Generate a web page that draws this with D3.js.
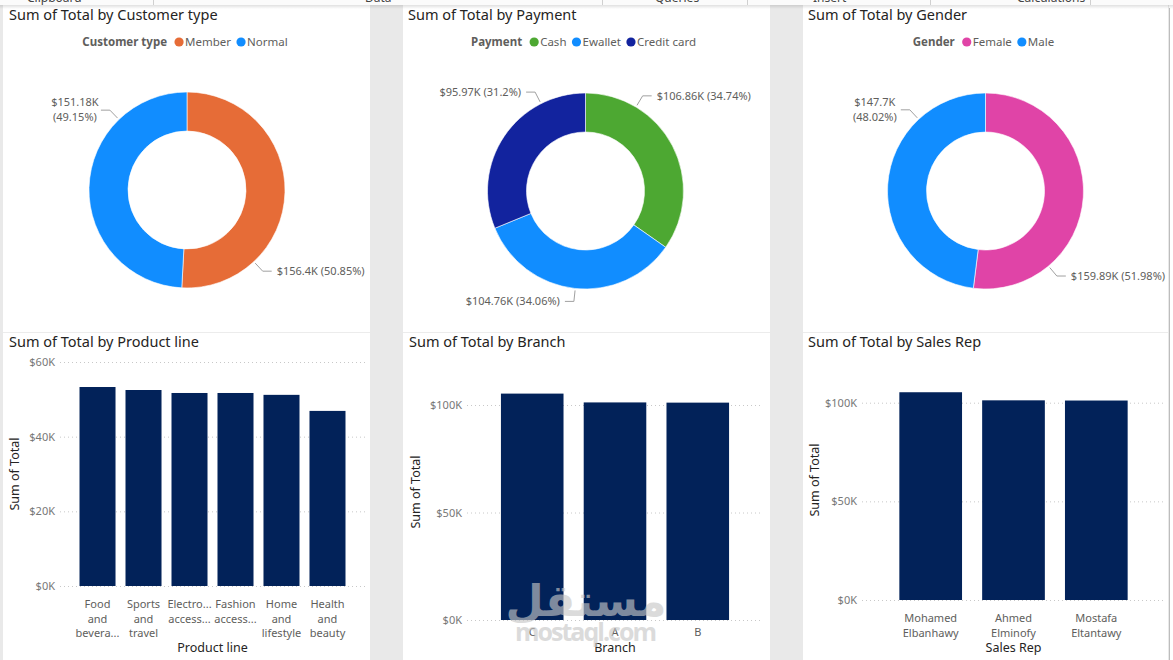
<!DOCTYPE html>
<html>
<head>
<meta charset="utf-8">
<script src="https://cdn.jsdelivr.net/npm/d3@7"></script>
<style>
  body { margin: 0; background: #fff; }
  text { font-family: "Noto Sans", sans-serif; }
</style>
</head>
<body>
<svg id="chart" width="1173" height="660"></svg>
<script>
// ---- data (values in $K) ----
var customerTypes = ["Member", "Normal"];
var customerTotals = [156.40, 151.18];

var payments = ["Cash", "Ewallet", "Credit card"];
var paymentTotals = [106.86, 104.76, 95.97];

var genders = ["Female", "Male"];
var genderTotals = [159.89, 147.70];

var productLines = ["Food and beverages", "Sports and travel", "Electronic accessories",
                    "Fashion accessories", "Home and lifestyle", "Health and beauty"];
var productTotals = [53.3, 52.5, 51.7, 51.7, 51.2, 46.9];
var productTickLabels = [["Food", "and", "bevera..."], ["Sports", "and", "travel"],
                         ["Electro...", "access..."], ["Fashion", "access..."],
                         ["Home", "and", "lifestyle"], ["Health", "and", "beauty"]];

var branches = ["C", "A", "B"];
var branchTotals = [105.3, 101.2, 101.1];

var salesReps = ["Mohamed Elbanhawy", "Ahmed Elminofy", "Mostafa Eltantawy"];
var salesRepTotals = [105.3, 101.2, 101.1];
var salesRepTickLabels = [["Mohamed", "Elbanhawy"], ["Ahmed", "Elminofy"], ["Mostafa", "Eltantawy"]];

var productTicks = [0, 20, 40, 60];
var branchTicks = [0, 50, 100];

// ---- setup ----
var W = 1173, H = 660;
var svg = d3.select("#chart");
var titleColor = "#252423";
var labelGray = "#605E5C";
var barColor = "#022259";

svg.append("rect").attr("width", W).attr("height", H).attr("fill", "#e9e9e9");

// report panels
var cols = [[3, 370], [403, 770], [803, 1168]];
cols.forEach(function(c) {
  svg.append("rect").attr("x", c[0]).attr("y", 5).attr("width", c[1] - c[0])
    .attr("height", H - 5).attr("fill", "#fff");
  svg.append("line").attr("x1", c[0]).attr("x2", c[1]).attr("y1", 332.5).attr("y2", 332.5)
    .attr("stroke", "#ececec");
});
svg.append("rect").attr("x", 1169).attr("y", 5).attr("width", 4).attr("height", H - 5).attr("fill", "#fff");
svg.append("line").attr("x1", 1169.5).attr("x2", 1169.5).attr("y1", 8).attr("y2", H)
  .attr("stroke", "#bdbdbd");

// ribbon strip cut off at the top
svg.append("rect").attr("width", W).attr("height", 5).attr("fill", "#fbfbfb");
var shade = svg.append("defs").append("linearGradient").attr("id", "shade")
  .attr("x1", 0).attr("x2", 0).attr("y1", 0).attr("y2", 1);
shade.append("stop").attr("offset", 0).attr("stop-color", "#000").attr("stop-opacity", 0.12);
shade.append("stop").attr("offset", 1).attr("stop-color", "#000").attr("stop-opacity", 0);
svg.append("rect").attr("y", 5).attr("width", W).attr("height", 4).attr("fill", "url(#shade)");
[["Clipboard", 27], ["Data", 365], ["Queries", 655], ["Insert", 813], ["Calculations", 1017]]
  .forEach(function(r) {
    svg.append("text").attr("x", r[1]).attr("y", 2).attr("font-size", 12)
      .attr("fill", "#444").text(r[0]);
  });
[153, 602, 747, 930, 1090].forEach(function(x) {
  svg.append("line").attr("x1", x + 0.5).attr("x2", x + 0.5).attr("y1", 0).attr("y2", 5)
    .attr("stroke", "#d0d0d0");
});

function title(x, y, txt) {
  svg.append("text").attr("x", x).attr("y", y).attr("font-size", 14.5)
    .attr("fill", titleColor).text(txt);
}

var trim = function(v) { return String(+v.toFixed(2)); };

// ---- donut charts ----
function drawDonut(cfg) {
  title(cfg.titleX, 20, cfg.title);

  // legend
  var leg = svg.append("g");
  var lx = 0;
  var lt = leg.append("text").attr("x", 0).attr("y", 0).attr("font-size", 11.5)
    .attr("font-weight", "bold").attr("fill", labelGray).text(cfg.legendTitle);
  lx = lt.node().getComputedTextLength() + 12;
  cfg.names.forEach(function(n, i) {
    leg.append("circle").attr("cx", lx).attr("cy", -4).attr("r", 4.6).attr("fill", cfg.colors[i]);
    var t = leg.append("text").attr("x", lx + 6).attr("y", 0).attr("font-size", 11.5)
      .attr("fill", labelGray).text(n);
    lx += 6 + t.node().getComputedTextLength() + 10;
  });
  var bw = leg.node().getBBox().width;
  leg.attr("transform", "translate(" + (cfg.cx - 2 - bw / 2) + ",46)");

  var g = svg.append("g").attr("transform", "translate(" + cfg.cx + "," + cfg.cy + ")");
  var total = d3.sum(cfg.values);
  var arcs = d3.pie().sort(null).value(function(d) { return d; })(cfg.values);
  var arc = d3.arc().innerRadius(59).outerRadius(98);

  g.selectAll("path.slice").data(arcs).enter().append("path")
    .attr("class", "slice")
    .attr("d", arc)
    .attr("fill", function(d, i) { return cfg.colors[i]; })
    .attr("stroke", "#fff").attr("stroke-width", 0.6);

  // data labels with leader lines
  arcs.forEach(function(a, i) {
    var ang = cfg.labelAngles[i] * Math.PI / 180;
    var p0 = [Math.sin(ang) * 100, -Math.cos(ang) * 100];
    var p1 = [Math.sin(ang) * 111, -Math.cos(ang) * 111];
    var side = Math.sin(ang) >= 0 ? 1 : -1;
    var p2 = [p1[0] + side * 9, p1[1]];
    g.append("polyline").attr("points", [p0, p1, p2].map(function(p) { return p.join(","); }).join(" "))
      .attr("fill", "none").attr("stroke", "#a0a0a0").attr("stroke-width", 1);

    var v = "$" + trim(cfg.values[i]) + "K";
    var pc = "(" + trim(cfg.values[i] / total * 100) + "%)";
    var tx = p2[0] + side * 5;
    var anchor = side > 0 ? "start" : "end";
    if (cfg.wrap[i]) {
      var t = g.append("text").attr("font-size", 11).attr("fill", labelGray)
        .attr("text-anchor", "middle");
      var cx = tx + side * 21;
      t.append("tspan").attr("x", cx).attr("y", p2[1] - 4).text(v);
      t.append("tspan").attr("x", cx).attr("y", p2[1] + 11).text(pc);
    } else {
      g.append("text").attr("x", tx).attr("y", p2[1] + 4).attr("font-size", 11)
        .attr("fill", labelGray).attr("text-anchor", anchor).text(v + " " + pc);
    }
  });
}

drawDonut({
  title: "Sum of Total by Customer type", titleX: 9, legendTitle: "Customer type",
  names: customerTypes, values: customerTotals, colors: ["#E66C37", "#118DFF"],
  cx: 187, cy: 190, labelAngles: [137, 316], wrap: [false, true]
});
drawDonut({
  title: "Sum of Total by Payment", titleX: 408, legendTitle: "Payment",
  names: payments, values: paymentTotals, colors: ["#4DA832", "#118DFF", "#12239E"],
  cx: 585.5, cy: 191, labelAngles: [31, 186, 333], wrap: [false, false, false]
});
drawDonut({
  title: "Sum of Total by Gender", titleX: 808, legendTitle: "Gender",
  names: genders, values: genderTotals, colors: ["#E044A7", "#118DFF"],
  cx: 985.5, cy: 191, labelAngles: [140, 317], wrap: [false, true]
});

// ---- bar charts ----
function drawBars(cfg) {
  title(cfg.titleX, 347, cfg.title);

  var x = d3.scaleBand().domain(cfg.categories).range(cfg.xRange)
    .paddingInner(cfg.padIn).paddingOuter(cfg.padOut);
  var y = d3.scaleLinear().domain([0, cfg.ticks[cfg.ticks.length - 1]]).range(cfg.yRange);

  // dotted gridlines
  svg.append("g").selectAll("line").data(cfg.ticks).enter().append("line")
    .attr("x1", cfg.xRange[0]).attr("x2", cfg.xRange[1])
    .attr("y1", function(d) { return y(d) + 0.5; }).attr("y2", function(d) { return y(d) + 0.5; })
    .attr("stroke", "#c8c8c8").attr("stroke-dasharray", "1,3");

  var yAxisCall = d3.axisLeft(y).tickValues(cfg.ticks).tickSize(0).tickPadding(5)
    .tickFormat(function(d) { return "$" + d + "K"; });
  var ya = svg.append("g").attr("transform", "translate(" + cfg.xRange[0] + ",0)").call(yAxisCall);
  ya.select(".domain").remove();
  ya.selectAll("text").attr("font-size", 11).attr("fill", "#777")
    .style("font-family", "'Noto Sans', sans-serif");

  svg.append("g").selectAll("rect").data(cfg.values).enter().append("rect")
    .attr("x", function(d, i) { return x(cfg.categories[i]); })
    .attr("width", x.bandwidth())
    .attr("y", function(d) { return y(d); })
    .attr("height", function(d) { return y(0) - y(d); })
    .attr("fill", barColor);

  // wrapped category labels
  cfg.categories.forEach(function(c, i) {
    var t = svg.append("text").attr("font-size", 11).attr("fill", labelGray)
      .attr("text-anchor", "middle");
    cfg.tickLines[i].forEach(function(line, k) {
      t.append("tspan").attr("x", x(c) + x.bandwidth() / 2)
        .attr("y", cfg.tickY + k * 14.6).text(line);
    });
  });

  svg.append("text").attr("x", (cfg.xRange[0] + cfg.xRange[1]) / 2).attr("y", 652)
    .attr("text-anchor", "middle").attr("font-size", 12.5).attr("fill", titleColor)
    .text(cfg.xTitle);
  svg.append("text").attr("transform", "translate(" + cfg.yTitleX + "," + cfg.yTitleY + ") rotate(-90)")
    .attr("text-anchor", "middle").attr("font-size", 12.5).attr("fill", titleColor)
    .text("Sum of Total");
}

drawBars({
  title: "Sum of Total by Product line", titleX: 9, xTitle: "Product line",
  categories: productLines, values: productTotals, tickLines: productTickLabels,
  ticks: productTicks, xRange: [60, 365], padIn: 0.217, padOut: 0.424,
  yRange: [586, 362], tickY: 608, yTitleX: 19, yTitleY: 474
});
drawBars({
  title: "Sum of Total by Branch", titleX: 409, xTitle: "Branch",
  categories: branches, values: branchTotals, tickLines: branches.map(function(b) { return [b]; }),
  ticks: branchTicks, xRange: [467, 763], padIn: 0.244, padOut: 0.41,
  yRange: [620, 405], tickY: 636, yTitleX: 420, yTitleY: 492
});
drawBars({
  title: "Sum of Total by Sales Rep", titleX: 808, xTitle: "Sales Rep",
  categories: salesReps, values: salesRepTotals, tickLines: salesRepTickLabels,
  ticks: branchTicks, xRange: [862, 1165], padIn: 0.243, padOut: 0.451,
  yRange: [600, 402.7], tickY: 622, yTitleX: 819, yTitleY: 480
});

// watermark
var wm = svg.append("g").attr("opacity", 0.63).attr("fill", "#c7c7c7");
wm.append("text").attr("x", 586).attr("y", 616).attr("text-anchor", "middle")
  .attr("font-size", 44).attr("font-weight", "bold")
  .style("font-family", "'DejaVu Sans', sans-serif").text("مستقل");
wm.append("text").attr("x", 586).attr("y", 641).attr("text-anchor", "middle")
  .attr("font-size", 25).attr("font-weight", "bold").attr("textLength", 142)
  .style("font-family", "'Open Sans', sans-serif").text("mostaql.com");
</script>
</body>
</html>
